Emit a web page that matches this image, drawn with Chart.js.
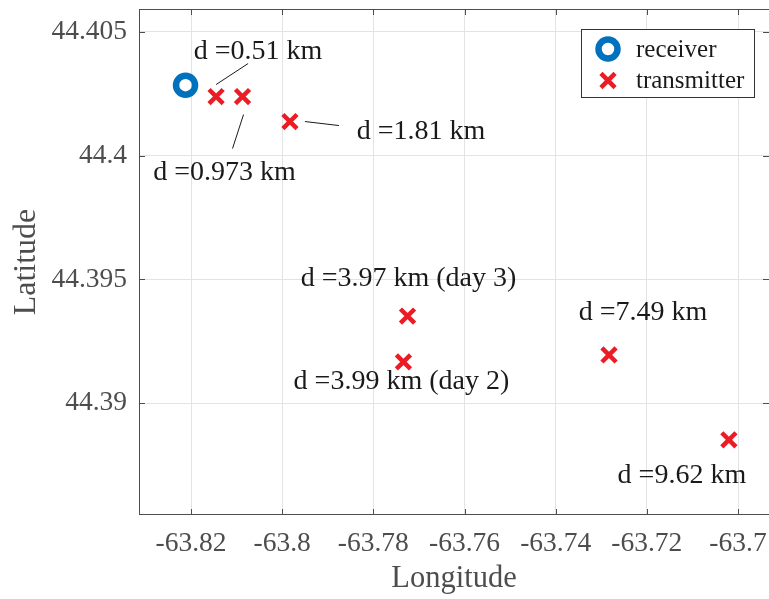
<!DOCTYPE html>
<html>
<head>
<meta charset="utf-8">
<script src="https://cdn.jsdelivr.net/npm/chart.js@4.4.1/dist/chart.umd.min.js"></script>
<style>
  html, body { margin: 0; padding: 0; background: #fff; }
</style>
</head>
<body>
<canvas id="map" width="769" height="599"></canvas>
<script>
// receiver site
var rxLon = [-63.8212];
var rxLat = [44.40285];

// transmitter sites and distance to the receiver (km)
var txLon = [-63.8145, -63.8087, -63.7983, -63.7725, -63.7734, -63.7283, -63.7020];
var txLat = [44.40239, 44.40239, 44.40138, 44.39352, 44.39167, 44.39195, 44.38852];
var txDist = [0.51, 0.973, 1.81, 3.97, 3.99, 7.49, 9.62];
var txNote = ["", "", "", " (day 3)", " (day 2)", "", ""];

var lonTicks = [-63.82, -63.8, -63.78, -63.76, -63.74, -63.72, -63.7];
var latTicks = [44.39, 44.395, 44.4, 44.405];

// where each distance label sits relative to its marker (px)
var labelOffset = [[42, -45], [-18, 76], [131, 10], [1, -37], [-2, 20], [34, -42], [-47, 36]];
var leaderLine = [[[0, -12], [32, -33]], [[-10, 52], [1, 18]], [[15, 0], [49, 4]], null, null, null, null];

var serif = '"Liberation Serif", "Times New Roman", serif';
var axisGray = '#4d4d4d';

function toPoints(xs, ys) {
  return xs.map(function (x, i) { return { x: x, y: ys[i] }; });
}

var overlay = {
  id: 'overlay',
  afterDatasetsDraw: function (chart) {
    var ctx = chart.ctx, a = chart.chartArea;
    var xs = chart.scales.x, ys = chart.scales.y;
    ctx.save();

    // frame with inward ticks on all sides
    ctx.strokeStyle = axisGray;
    ctx.lineWidth = 1;
    ctx.strokeRect(a.left + 0.5, a.top + 0.5, a.right - a.left, a.bottom - a.top - 1);
    ctx.beginPath();
    lonTicks.forEach(function (v) {
      var px = Math.round(xs.getPixelForValue(v)) + 0.5;
      ctx.moveTo(px, a.bottom); ctx.lineTo(px, a.bottom - 6);
      ctx.moveTo(px, a.top); ctx.lineTo(px, a.top + 6);
    });
    latTicks.forEach(function (v) {
      var py = Math.round(ys.getPixelForValue(v)) + 0.5;
      ctx.moveTo(a.left, py); ctx.lineTo(a.left + 6, py);
      ctx.moveTo(a.right, py); ctx.lineTo(a.right - 6, py);
    });
    ctx.stroke();

    // distance labels
    var meta = chart.getDatasetMeta(1);
    ctx.font = '28px ' + serif;
    ctx.fillStyle = '#1a1a1a';
    ctx.strokeStyle = '#1a1a1a';
    ctx.textAlign = 'center';
    ctx.textBaseline = 'middle';
    meta.data.forEach(function (pt, i) {
      var off = labelOffset[i];
      ctx.fillText('d =' + txDist[i] + ' km' + txNote[i], pt.x + off[0], pt.y + off[1]);
      var ln = leaderLine[i];
      if (ln) {
        ctx.beginPath();
        ctx.moveTo(pt.x + ln[0][0], pt.y + ln[0][1]);
        ctx.lineTo(pt.x + ln[1][0], pt.y + ln[1][1]);
        ctx.stroke();
      }
    });

    // legend box
    var bw = 173, bh = 68;
    var bx = a.right - 15 - bw, by = a.top + 20;
    ctx.fillStyle = '#fff';
    ctx.fillRect(bx, by, bw, bh);
    ctx.strokeStyle = '#333';
    ctx.strokeRect(bx + 0.5, by + 0.5, bw, bh);
    ctx.font = '25px ' + serif;
    ctx.textAlign = 'left';
    chart.data.datasets.forEach(function (ds, i) {
      var cy = by + 20 + i * 31.5;
      ctx.fillStyle = 'rgba(0,0,0,0)';
      ctx.strokeStyle = ds.borderColor;
      ctx.lineWidth = ds.borderWidth;
      Chart.helpers.drawPoint(ctx, { pointStyle: ds.pointStyle, radius: ds.pointRadius, borderWidth: ds.borderWidth, rotation: 0 }, bx + 27, cy);
      ctx.fillStyle = '#1a1a1a';
      ctx.fillText(ds.label, bx + 55, cy + 1);
    });
    ctx.restore();
  }
};

new Chart(document.getElementById('map').getContext('2d'), {
  type: 'scatter',
  data: {
    datasets: [
      {
        label: 'receiver',
        data: toPoints(rxLon, rxLat),
        pointStyle: 'circle',
        pointRadius: 9.5,
        borderWidth: 6.5,
        borderColor: '#0072bd',
        backgroundColor: 'rgba(0,0,0,0)'
      },
      {
        label: 'transmitter',
        data: toPoints(txLon, txLat),
        pointStyle: 'crossRot',
        pointRadius: 10,
        borderWidth: 4.5,
        borderColor: '#ec1c24',
        backgroundColor: '#ec1c24'
      }
    ]
  },
  options: {
    responsive: false,
    animation: false,
    events: [],
    layout: { autoPadding: false, padding: { top: 9, right: 0, left: 0, bottom: 0 } },
    plugins: { legend: { display: false }, tooltip: { enabled: false } },
    scales: {
      x: {
        type: 'linear',
        min: -63.83141,
        max: -63.6932,
        afterBuildTicks: function (scale) {
          scale.ticks = lonTicks.map(function (v) { return { value: v }; });
        },
        afterFit: function (scale) {
          scale.height = 84;
          scale.paddingLeft = 0;
          scale.paddingRight = 0;
        },
        grid: { color: '#e3e3e3', drawTicks: false },
        border: { display: false },
        ticks: {
          padding: 12,
          color: axisGray,
          font: { family: serif, size: 27.5 },
          callback: function (v) { return String(+v.toFixed(2)); }
        },
        title: { display: true, text: 'Longitude', color: axisGray, font: { family: serif, size: 30.5 }, padding: { top: 0, bottom: 2 } }
      },
      y: {
        type: 'linear',
        min: 44.385484,
        max: 44.405927,
        afterBuildTicks: function (scale) {
          scale.ticks = latTicks.map(function (v) { return { value: v }; });
        },
        afterFit: function (scale) {
          scale.width = 139;
          scale.paddingTop = 0;
          scale.paddingBottom = 0;
        },
        grid: { color: '#e3e3e3', drawTicks: false },
        border: { display: false },
        ticks: {
          padding: 12,
          color: axisGray,
          font: { family: serif, size: 27.5 },
          callback: function (v) { return String(+v.toFixed(3)); }
        },
        title: { display: true, text: 'Latitude', color: axisGray, font: { family: serif, size: 32 }, padding: { top: 7, bottom: 0 } }
      }
    }
  },
  plugins: [overlay]
});
</script>
</body>
</html>
